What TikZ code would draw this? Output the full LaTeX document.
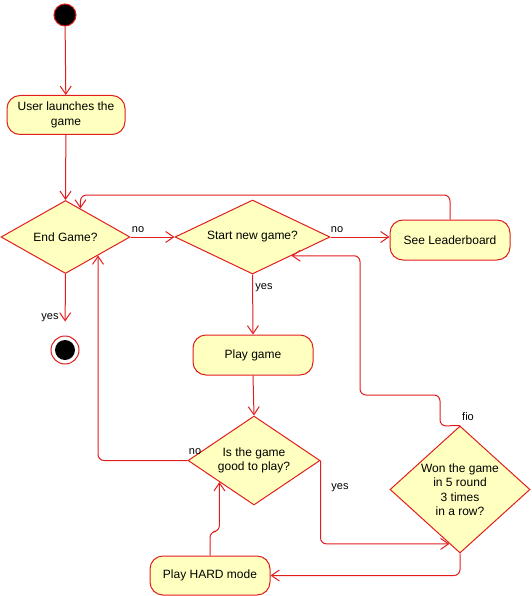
\documentclass[tikz,border=0pt]{standalone}
\usepackage{fontspec}
\setmainfont{Liberation Sans}
\usetikzlibrary{shapes.geometric,arrows.meta,calc}
\definecolor{lnred}{RGB}{225,30,30}
\definecolor{boxfill}{HTML}{FFFFC0}
\tikzset{
  actbox/.style={draw=lnred,fill=boxfill,rounded corners=13pt,line width=1pt,
    minimum width=118pt,minimum height=39pt,align=center,font=\fontsize{12}{14.5}\selectfont,inner sep=2pt},
  decbox/.style={draw=lnred,fill=boxfill,diamond,line width=1pt,inner sep=0pt,align=center,
    font=\fontsize{12}{14.5}\selectfont},
  flow/.style={draw=lnred,line width=1pt,-{Straight Barb[length=8pt,width=11pt]},rounded corners=6pt},
  lbl/.style={font=\fontsize{11}{13}\selectfont,inner sep=0pt}
}
\begin{document}
\begin{tikzpicture}[x=1pt,y=-1pt]
\useasboundingbox (0,0) rectangle (531,596);
% nodes
\node[circle,draw=lnred,fill=black,minimum size=22pt,inner sep=0pt,line width=1pt] (start) at (65,15) {};
\node[actbox] (launch) at (66,115) {User launches the\\game};
\node[decbox,aspect=1.77,minimum width=129pt,minimum height=73pt] (endg) at (65.5,237) {End Game?};
\node[circle,draw=lnred,fill=white,minimum size=28pt,inner sep=0pt,line width=1pt] (endc) at (65,350) {};
\node[circle,fill=black,minimum size=20pt,inner sep=0pt] (endin) at (65,350) {};
\node[decbox,aspect=2.1,minimum width=155pt,minimum height=74pt] (startg) at (252.5,237) {Start new game?};
\node[actbox,minimum width=120pt,minimum height=40pt] (lead) at (450,240) {See Leaderboard};
\node[actbox,minimum width=120pt,minimum height=40pt] (play) at (253,355) {Play game};
\node[decbox,aspect=1.48,minimum width=132pt,minimum height=89pt] (isg) at (254,460.5) {Is the game\\good to play?};
\node[decbox,aspect=1.1,inner sep=-4pt,minimum width=140pt,minimum height=127pt] (won) at (460,489.5) {Won the game\\in 5 round\\3 times\\in a row?};
\node[actbox,minimum width=120pt,minimum height=39pt] (hard) at (210,575.5) {Play HARD mode};
% helper coordinates
\coordinate (c1) at ($(endg.north)!0.23!(endg.east)$);
\coordinate (c2) at ($(endg.east)!0.5!(endg.south)$);
\coordinate (c3) at ($(won.west)!0.85!(won.south)$);
\coordinate (c4) at ($(startg.east)!0.5!(startg.south)$);
\coordinate (c5) at ($(isg.west)!0.48!(isg.south)$);
\coordinate (k1) at (440,426);
\coordinate (k2) at (360,395);
% connectors
\draw[flow] (start) -- (launch);
\draw[flow] (launch) -- (endg.north);
\draw[flow,shorten >=14pt] (endg.south) -- (endc.north);
\node[lbl] at (50,318) {yes};
\draw[flow] (endg.east) -- (startg.west);
\node[lbl] at (138,230) {no};
\draw[flow] (startg.east) -- (startg.east -| lead.west);
\node[lbl] at (337,230) {no};
\draw[flow] (lead.north) |- (c1 |- 0,195) -- (c1);
\draw[flow] (startg.south) -- (play.north);
\node[lbl] at (264,288) {yes};
\draw[flow] (play.south) -- (isg.north);
\draw[flow] (isg.west) -| (c2);
\node[lbl] at (195,452) {no};
\draw[flow] (isg.east) |- (c3);
\node[lbl] at (340,488) {yes};
\draw[flow] (won.north) -- (k1) |- (k2) |- (c4);
\node[lbl] at (468,417) {fio};
\draw[flow] (won.south) |- (hard.east);
\draw[flow] (hard.north) -- ++(0,-24) -| (c5);
\end{tikzpicture}
\end{document}
